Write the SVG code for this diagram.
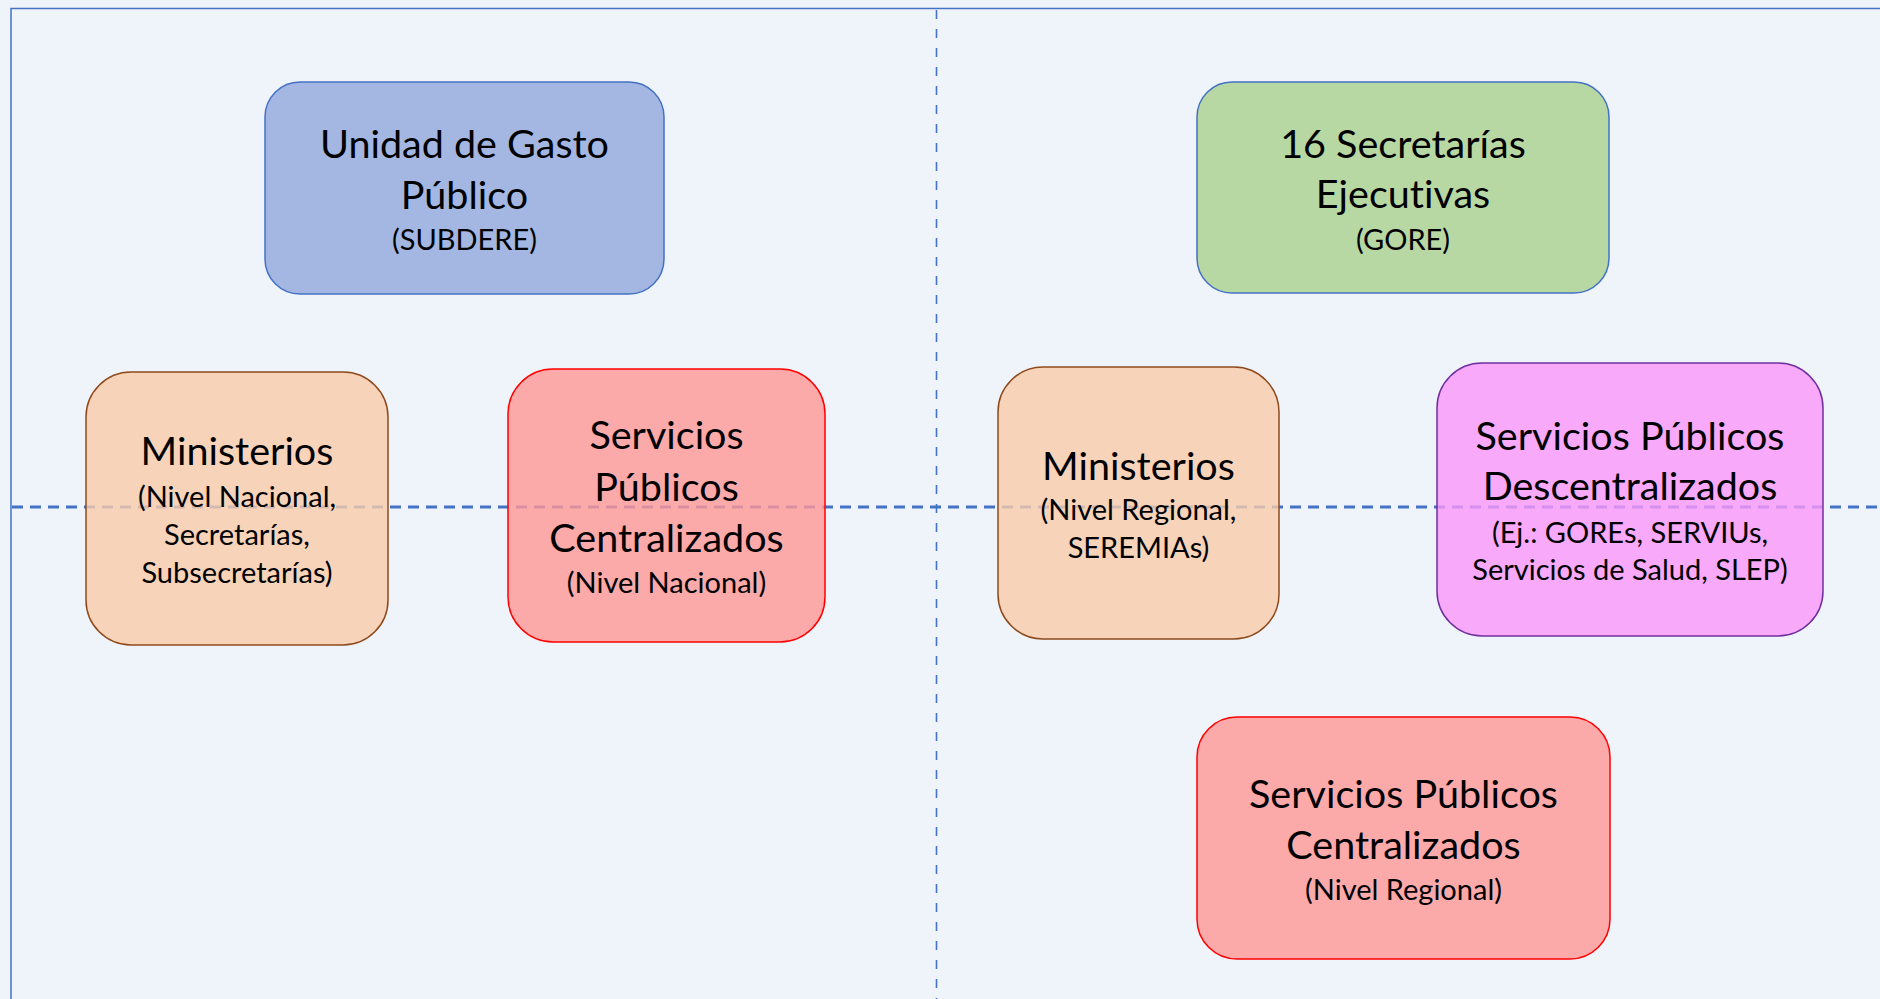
<svg xmlns="http://www.w3.org/2000/svg" width="1880" height="999" viewBox="0 0 1880 999">
<style>
.node text{font-family:Lato,"Open Sans","Liberation Sans",sans-serif;fill:#000;text-anchor:middle;font-variant-ligatures:none;font-feature-settings:"liga" 0}
.m{font-size:39.5px}
.s{font-size:29px}
.blue{fill:#a3b7e2;stroke:#4472c4;stroke-width:1.5}
.green{fill:#b7d7a3;stroke:#4472c4;stroke-width:1.5}
.peach{fill:#f9cbaa;fill-opacity:0.8;stroke:#8f4a1c;stroke-width:1.5}
.red{fill:#ff9696;fill-opacity:0.8;stroke:#ff0000;stroke-width:1.5}
.pink{fill:#fa96f9;fill-opacity:0.8;stroke:#7030a0;stroke-width:1.5}
.frame{fill:none;stroke:#4472c4;stroke-width:1.5}
.dh{stroke:#4472c4;stroke-width:2.8;stroke-dasharray:11 7;fill:none}
.dv{stroke:#4472c4;stroke-width:1.6;stroke-dasharray:9 10;fill:none}
</style>
<rect x="0" y="0" width="1880" height="999" fill="#eff3fa"/>
<path class="frame" d="M11,999 V8.5 H1880"/>
<g id="connectors">
<line class="dv" x1="936.5" y1="10" x2="936.5" y2="999"/>
<line class="dh" x1="12" y1="507" x2="1880" y2="507"/>
</g>
<g id="node-ugp" class="node">
<rect class="blue" x="265" y="82" width="399" height="212" rx="35"/>
<text class="m" x="464.5" y="158">Unidad de Gasto</text>
<text class="m" x="464.5" y="209">Público</text>
<text class="s" x="464.5" y="250">(SUBDERE)</text>
</g>
<g id="node-secretarias" class="node">
<rect class="green" x="1197" y="82" width="412" height="211" rx="35"/>
<text class="m" x="1403" y="158">16 Secretarías</text>
<text class="m" x="1403" y="208">Ejecutivas</text>
<text class="s" x="1403" y="250">(GORE)</text>
</g>
<g id="node-ministerios-nac" class="node">
<rect class="peach" x="86" y="372" width="302" height="273" rx="45"/>
<text class="m" x="237" y="465">Ministerios</text>
<text class="s" x="237" y="507">(Nivel Nacional,</text>
<text class="s" x="237" y="545">Secretarías,</text>
<text class="s" x="237" y="583">Subsecretarías)</text>
</g>
<g id="node-spc-nac" class="node">
<rect class="red" x="508" y="369" width="317" height="273" rx="45"/>
<text class="m" x="666.5" y="449">Servicios</text>
<text class="m" x="666.5" y="501">Públicos</text>
<text class="m" x="666.5" y="552">Centralizados</text>
<text class="s" x="666.5" y="593">(Nivel Nacional)</text>
</g>
<g id="node-ministerios-reg" class="node">
<rect class="peach" x="998" y="367" width="281" height="272" rx="45"/>
<text class="m" x="1138.5" y="480">Ministerios</text>
<text class="s" x="1138.5" y="520">(Nivel Regional,</text>
<text class="s" x="1138.5" y="558">SEREMIAs)</text>
</g>
<g id="node-spd" class="node">
<rect class="pink" x="1437" y="363" width="386" height="273" rx="45"/>
<text class="m" x="1630" y="450">Servicios Públicos</text>
<text class="m" x="1630" y="500">Descentralizados</text>
<text class="s" x="1630" y="543">(Ej.: GOREs, SERVIUs,</text>
<text class="s" x="1630" y="580">Servicios de Salud, SLEP)</text>
</g>
<g id="node-spc-reg" class="node">
<rect class="red" x="1197" y="717" width="413" height="242" rx="40"/>
<text class="m" x="1403.5" y="808">Servicios Públicos</text>
<text class="m" x="1403.5" y="859">Centralizados</text>
<text class="s" x="1403.5" y="900">(Nivel Regional)</text>
</g>
</svg>
